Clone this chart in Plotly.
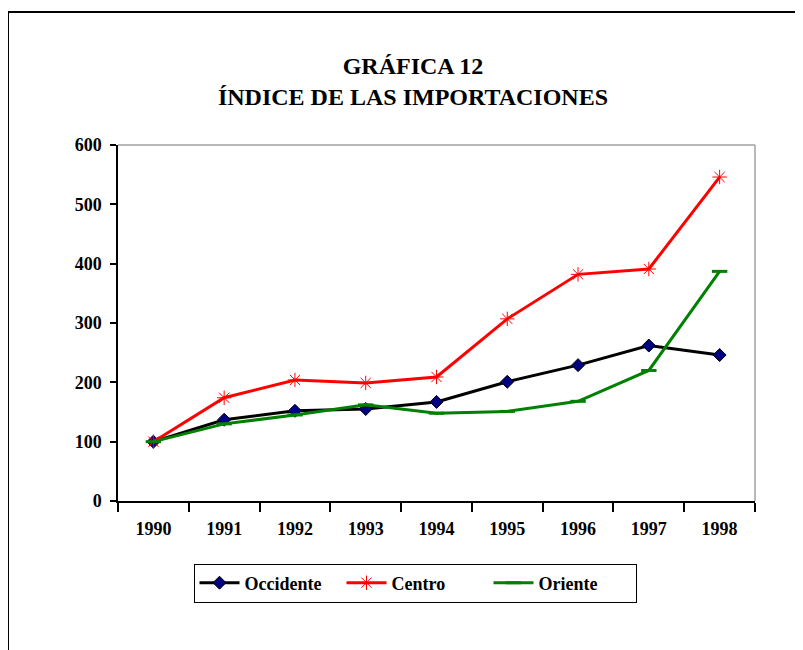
import plotly.graph_objects as go

years = ["1990", "1991", "1992", "1993", "1994", "1995", "1996", "1997", "1998"]
occidente = [100, 137, 152, 155, 167, 201, 229, 262, 246]
centro = [100, 174, 204, 199, 209, 307, 382, 391, 546]
oriente = [100, 130, 145, 162, 148, 151, 168, 220, 387]
y_ticks = [0, 100, 200, 300, 400, 500, 600]

# page has an 8px body margin, so the figure is 8px smaller than the window
OFF = 8
W, H = 803 - OFF, 650 - OFF
L, R, T, B = 118 - OFF, 48, 145 - OFF, 149
pw, ph = W - L - R, H - T - B

def px(x):  # x in reference window pixels
    return (x - OFF - L) / pw

def py(y):  # y in reference window pixels
    return (H - B - (y - OFF)) / ph

font = "Liberation Serif, Times New Roman, serif"

fig = go.Figure()
fig.add_trace(go.Scatter(
    x=years, y=occidente, name="Occidente", mode="lines+markers",
    line=dict(color="black", width=3),
    marker=dict(symbol="diamond", size=10, color="#000080", line=dict(color="black", width=1)),
))
fig.add_trace(go.Scatter(
    x=years, y=centro, name="Centro", mode="lines+markers",
    line=dict(color="#ff0000", width=3),
    marker=dict(symbol="asterisk-open", size=12, color="#ff0000", line=dict(color="#ff0000", width=1)),
))
fig.add_trace(go.Scatter(
    x=years, y=oriente, name="Oriente", mode="lines+markers",
    line=dict(color="#008000", width=3),
    marker=dict(symbol="line-ew-open", size=11, color="#008000", line=dict(color="#008000", width=3)),
))

fig.update_layout(
    width=W, height=H,
    margin=dict(l=L, r=R, t=T, b=B, pad=0),
    paper_bgcolor="white", plot_bgcolor="white",
    font=dict(family=font, color="black", size=15),
    title=dict(
        text="<b>GRÁFICA 12<br>ÍNDICE DE LAS IMPORTACIONES</b>",
        x=px(413), xref="paper", xanchor="center",
        y=1 - 66 / H, yref="container", yanchor="middle",
        font=dict(family=font, size=24, color="black"),
    ),
    xaxis=dict(
        type="category", tickson="boundaries", ticks="outside", ticklen=9,
        tickcolor="black", tickwidth=1.5,
        showline=True, linecolor="black", linewidth=1.5, mirror=False,
        showgrid=False, zeroline=False,
        tickfont=dict(family=font, size=18, color="black", weight="bold"),
        ticklabelstandoff=11,
        range=[-0.5, 8.5],
    ),
    yaxis=dict(
        range=[0, 600], tickvals=y_ticks, ticks="outside", ticklen=6,
        tickcolor="black", tickwidth=1.5,
        showline=True, linecolor="black", linewidth=1.5,
        showgrid=False, zeroline=False,
        tickfont=dict(family=font, size=18, color="black", weight="bold"),
        ticklabelstandoff=5,
    ),
    showlegend=True,
    legend=dict(
        orientation="h", x=px(415), xanchor="center", y=py(583), yanchor="middle",
        bordercolor="black", borderwidth=1, bgcolor="white",
        font=dict(family=font, size=18, color="black", weight="bold"),
        itemwidth=40, entrywidth=92,
    ),
    shapes=[
        dict(type="line", xref="paper", yref="paper", x0=0, x1=1, y0=1, y1=1,
             line=dict(color="#a0a0a0", width=1.5)),
        dict(type="line", xref="paper", yref="paper", x0=1, x1=1, y0=0, y1=1,
             line=dict(color="#a0a0a0", width=1.5)),
        dict(type="line", xref="paper", yref="paper", x0=px(8), x1=px(815), y0=py(12), y1=py(12),
             line=dict(color="black", width=2)),
        dict(type="line", xref="paper", yref="paper", x0=px(8), x1=px(8), y0=py(12), y1=py(665),
             line=dict(color="black", width=2)),
    ],
)

fig.write_html("out.html")
